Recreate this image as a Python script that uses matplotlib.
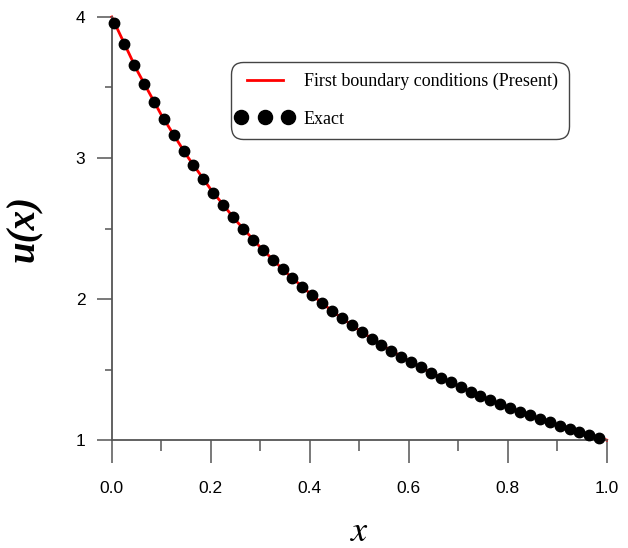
import matplotlib
matplotlib.use("Agg")
import matplotlib.pyplot as plt
from matplotlib.ticker import MultipleLocator
from matplotlib.legend_handler import HandlerLine2D

plt.rcParams['mathtext.fontset'] = 'stix'

# present solution (first boundary conditions)
x_line = [0.0, 0.05, 0.10, 0.15, 0.20, 0.25, 0.30, 0.35, 0.40, 0.45, 0.50,
          0.55, 0.60, 0.65, 0.70, 0.75, 0.80, 0.85, 0.90, 0.95, 1.0]
u_line = [4.000, 3.628, 3.306, 3.025, 2.778, 2.560, 2.367, 2.195, 2.041, 1.902, 1.778,
          1.665, 1.563, 1.469, 1.384, 1.306, 1.235, 1.169, 1.108, 1.052, 1.000]

# exact solution, sampled
x_exact = [0.005, 0.025, 0.045, 0.065, 0.085, 0.105, 0.125, 0.145, 0.165, 0.185,
           0.205, 0.225, 0.245, 0.265, 0.285, 0.305, 0.325, 0.345, 0.365, 0.385,
           0.405, 0.425, 0.445, 0.465, 0.485, 0.505, 0.525, 0.545, 0.565, 0.585,
           0.605, 0.625, 0.645, 0.665, 0.685, 0.705, 0.725, 0.745, 0.765, 0.785,
           0.805, 0.825, 0.845, 0.865, 0.885, 0.905, 0.925, 0.945, 0.965, 0.985]
u_exact = [3.960, 3.807, 3.663, 3.527, 3.398, 3.276, 3.160, 3.051, 2.947, 2.849,
           2.755, 2.666, 2.581, 2.500, 2.422, 2.349, 2.278, 2.211, 2.147, 2.085,
           2.026, 1.970, 1.916, 1.864, 1.814, 1.766, 1.720, 1.676, 1.633, 1.592,
           1.553, 1.515, 1.478, 1.443, 1.409, 1.376, 1.344, 1.314, 1.284, 1.255,
           1.228, 1.201, 1.175, 1.150, 1.126, 1.102, 1.079, 1.057, 1.036, 1.015]

fig = plt.figure(figsize=(6.28, 5.48), dpi=100)
ax = fig.add_axes([0.178, 0.197, 0.788, 0.772])

ax.plot(x_line, u_line, color='red', lw=2, label='First boundary conditions (Present)',
        zorder=2, clip_on=False)
dots, = ax.plot(x_exact, u_exact, 'o', color='black', ms=7.5, label='Exact', zorder=3,
                clip_on=False)

ax.set_xlim(0, 1)
ax.set_ylim(1, 4)

grey = '#555555'
for s in ['top', 'right']:
    ax.spines[s].set_visible(False)
for s in ['left', 'bottom']:
    ax.spines[s].set_color(grey)
    ax.spines[s].set_linewidth(1.3)

ax.xaxis.set_minor_locator(MultipleLocator(0.1))
ax.yaxis.set_minor_locator(MultipleLocator(0.5))
ax.set_xticks([0.0, 0.2, 0.4, 0.6, 0.8, 1.0])
ax.set_xticklabels(['0.0', '0.2', '0.4', '0.6', '0.8', '1.0'])
ax.set_yticks([1, 2, 3, 4])
ax.set_yticklabels(['1', '2', '3', '4'])

ax.tick_params(axis='x', which='major', direction='out', length=16.5, width=1.1, color=grey, pad=13)
ax.tick_params(axis='x', which='minor', direction='out', length=8, width=1.1, color=grey)
ax.tick_params(axis='y', which='major', direction='out', length=11, width=1.1, color=grey, pad=8)
ax.tick_params(axis='y', which='minor', direction='out', length=5, width=1.1, color=grey)
for lab in ax.get_xticklabels() + ax.get_yticklabels():
    lab.set_family('Liberation Sans')
    lab.set_fontsize(12.5)

ax.set_xlabel(r'$x$', fontsize=26, labelpad=13)
ax.set_ylabel('u(x)', fontsize=28, family='Liberation Serif', style='italic', weight='bold')
ax.yaxis.set_label_coords(-0.14, 0.5)

leg = ax.legend(loc='upper left', bbox_to_anchor=(0.24, 0.894), borderaxespad=0,
                numpoints=3, markerscale=1.35, fancybox=True, framealpha=1,
                edgecolor='#444444', prop={'family': 'Liberation Serif', 'size': 13},
                handlelength=2.6, handletextpad=0.85, borderpad=0.6, labelspacing=1.15,
                handler_map={dots: HandlerLine2D(marker_pad=0)})
leg.get_frame().set_linewidth(1.0)
leg.get_frame().set_boxstyle('round', pad=0, rounding_size=0.7)

fig.savefig('out.png', dpi=100)
